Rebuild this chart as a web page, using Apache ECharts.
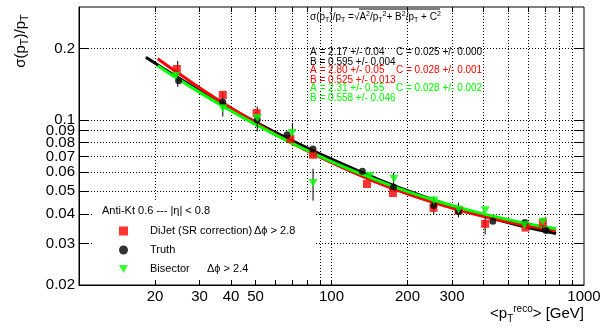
<!DOCTYPE html>
<html>
<head>
<meta charset="utf-8">
<script src="https://cdn.jsdelivr.net/npm/echarts@6/dist/echarts.min.js"></script>
<style>
  html, body { margin: 0; padding: 0; background: #fff; }
  #chart { width: 605px; height: 327px; }
</style>
</head>
<body>
<div id="chart"></div>
<script>
// tick / label positions
const xTickValues = [20, 30, 40, 50, 60, 70, 80, 90, 100, 200, 300, 400, 500, 600, 700, 800, 900]
const xLabelValues = [20, 30, 40, 50, 100, 200, 300, 1000]
const yTickValues = [0.03, 0.04, 0.05, 0.06, 0.07, 0.08, 0.09, 0.1, 0.2]
const yLabelValues = [0.02, 0.03, 0.04, 0.05, 0.06, 0.07, 0.08, 0.09, 0.1, 0.2]

// DiJet (SR correction)
const dijetX = [24.4, 37.1, 50.5, 68.8, 84.5, 138.2, 175.1, 253.4, 318.5, 406, 587, 687]
const dijetY = [0.164, 0.1275, 0.1067, 0.0829, 0.0711, 0.0535, 0.049, 0.0424, 0.0413, 0.0363, 0.035, 0.0367]
// Truth
const truthX = [24.8, 37.1, 50.8, 66.7, 84.5, 132.5, 176, 254, 318.5, 435.5, 583, 708]
const truthY = [0.1461, 0.119, 0.1, 0.0864, 0.0752, 0.0605, 0.052, 0.0434, 0.0409, 0.0372, 0.0368, 0.034]
// Bisector
const bisectorX = [24.2, 37.1, 50.8, 69.8, 84.5, 141.6, 176.7, 254.4, 318.5, 406.2, 581, 686.6]
const bisectorY = [0.1534, 0.112, 0.1017, 0.0879, 0.054, 0.058, 0.0563, 0.0456, 0.0417, 0.0414, 0.0358, 0.037]

// vertical error bars
const errX = [24.6, 37.1, 50.8, 70, 84.5, 176, 254, 318.5, 406, 686.6]
const errLow = [0.138, 0.1032, 0.0892, 0.0797, 0.0455, 0.0506, 0.0397, 0.0386, 0.0327, 0.0338]
const errHigh = [0.1775, 0.1317, 0.1138, 0.0968, 0.0621, 0.0596, 0.0473, 0.0446, 0.0389, 0.0385]

// fitted resolution curves
const fitTruthX = [18.4, 25, 35, 50, 70, 100, 150, 200, 300, 400, 550, 775]
const fitTruthY = [0.1838, 0.1494, 0.1208, 0.0979, 0.0815, 0.0681, 0.0565, 0.0501, 0.0431, 0.0392, 0.0358, 0.033]
const fitDijetX = [20.5, 25, 35, 50, 70, 100, 150, 200, 300, 400, 550, 775]
const fitDijetY = [0.1813, 0.1561, 0.1227, 0.0971, 0.0795, 0.0658, 0.0545, 0.0486, 0.0423, 0.039, 0.0362, 0.034]
const fitBisectorX = [20.5, 25, 35, 50, 70, 100, 150, 200, 300, 400, 550, 775]
const fitBisectorY = [0.1693, 0.1476, 0.1185, 0.0956, 0.0795, 0.0666, 0.0557, 0.0497, 0.0434, 0.04, 0.037, 0.0346]

const FONT = '"Liberation Sans", Arial, Helvetica, sans-serif'
const TRIANGLE_DOWN = 'path://M0,0L10,0L5,9Z'
const zip = (xs, ys) => xs.map((x, i) => [x, ys[i]])

const chart = echarts.init(document.getElementById('chart'), null, { renderer: 'canvas' })

const dotted = { type: [1, 2], color: '#000', width: 1 }

function fitLine(name, xs, ys, color) {
  return {
    name,
    type: 'line',
    data: zip(xs, ys),
    smooth: true,
    symbol: 'none',
    lineStyle: { color, width: 3 },
    z: 2,
    silent: true
  }
}

const option = {
  animation: false,
  grid: { left: 79, top: 7, right: 21, bottom: 42, show: true, borderColor: '#000', borderWidth: 1, backgroundColor: 'transparent' },
  xAxis: [
    {
      type: 'log', logBase: 10, min: 10, max: 1000, position: 'bottom',
      axisLine: { show: true, lineStyle: { color: '#000', width: 1 } },
      axisTick: { inside: true, length: 5, customValues: xTickValues, lineStyle: { color: '#000' } },
      axisLabel: {
        customValues: xLabelValues, color: '#000', fontSize: 15, fontFamily: FONT, margin: 4,
        formatter: v => String(Math.round(v))
      },
      splitLine: { show: true, lineStyle: dotted },
      minorTick: { show: false }
    },
    {
      type: 'log', logBase: 10, min: 10, max: 1000, position: 'top',
      axisLine: { show: false },
      axisTick: { inside: true, length: 5, customValues: xTickValues, lineStyle: { color: '#000' } },
      axisLabel: { show: false },
      splitLine: { show: false }
    }
  ],
  yAxis: [
    {
      type: 'log', logBase: 10, min: 0.02, max: 0.3, position: 'left',
      axisLine: { show: true, lineStyle: { color: '#000', width: 1 } },
      axisTick: { inside: true, length: 9, customValues: yTickValues, lineStyle: { color: '#000' } },
      axisLabel: {
        customValues: yLabelValues, color: '#000', fontSize: 15, fontFamily: FONT, margin: 4,
        formatter: v => String(+Number(v).toPrecision(2))
      },
      splitLine: { show: true, lineStyle: dotted }
    },
    {
      type: 'log', logBase: 10, min: 0.02, max: 0.3, position: 'right',
      axisLine: { show: false },
      axisTick: { inside: true, length: 9, customValues: yTickValues, lineStyle: { color: '#000' } },
      axisLabel: { show: false },
      splitLine: { show: false }
    }
  ],
  legend: {
    orient: 'vertical',
    left: 114,
    top: 220,
    itemGap: 7,
    itemWidth: 9,
    itemHeight: 9,
    data: ['DiJet (SR correction)', 'Truth', 'Bisector'],
    textStyle: {
      fontFamily: FONT, fontSize: 11, color: '#000', lineHeight: 12, padding: [0, 0, 0, 17],
      rich: {
        a: { fontFamily: FONT, fontSize: 11, color: '#000', width: 104 },
        b: { fontFamily: FONT, fontSize: 11, color: '#000', width: 57 },
        c: { fontFamily: FONT, fontSize: 11, color: '#000' }
      }
    },
    formatter: name => {
      if (name === 'DiJet (SR correction)') return '{a|DiJet (SR correction)}{c|\u0394\u03d5 > 2.8}'
      if (name === 'Bisector') return '{b|Bisector}{c|\u0394\u03d5 > 2.4}'
      return '{c|' + name + '}'
    }
  },
  graphic: [
    { type: 'rect', z: 1, shape: { x: 94, y: 201, width: 221, height: 79 }, style: { fill: '#fff' }, silent: true },
    {
      type: 'text', z: 5, x: 102, y: 211,
      style: { text: 'Anti-Kt 0.6 --- |\u03b7| < 0.8', fontFamily: FONT, fontSize: 11, fill: '#000', verticalAlign: 'middle' }
    },
    {
      type: 'text', z: 5, x: 21, y: 41, rotation: Math.PI / 2,
      style: {
        text: '{n|\u03c3(p}{s|T}{n|)/p}{s|T}',
        align: 'center', verticalAlign: 'middle',
        rich: {
          n: { fontFamily: FONT, fontSize: 15, fill: '#000' },
          s: { fontFamily: FONT, fontSize: 11, fill: '#000', padding: [8, 0, 0, 0] }
        }
      }
    },
    {
      type: 'text', z: 5, x: 584, y: 314,
      style: {
        text: '{n|<p}{s|T}{p|reco}{n|> [GeV]}',
        align: 'right', verticalAlign: 'middle',
        rich: {
          n: { fontFamily: FONT, fontSize: 15, fill: '#000' },
          s: { fontFamily: FONT, fontSize: 10, fill: '#000', padding: [10, 0, 0, 0] },
          p: { fontFamily: FONT, fontSize: 10, fill: '#000', padding: [0, 0, 9, 0] }
        }
      }
    },
    {
      type: 'text', z: 5, x: 310, y: 17,
      style: {
        text: '{n|\u03c3(p}{s|T}{n|)/p}{s|T}{n| =\u221aA}{p|2}{n|/p}{s|T}{p|2}{n|+ B}{p|2}{n|/p}{s|T}{n| + C}{p|2}',
        verticalAlign: 'middle',
        rich: {
          n: { fontFamily: FONT, fontSize: 10, fill: '#000' },
          s: { fontFamily: FONT, fontSize: 7, fill: '#000', padding: [6, 0, 0, 0] },
          p: { fontFamily: FONT, fontSize: 7, fill: '#000', padding: [0, 0, 5, 0] }
        }
      }
    },
    { type: 'line', z: 5, shape: { x1: 359, y1: 9, x2: 440, y2: 9 }, style: { stroke: '#000', lineWidth: 1 } },
    { type: 'text', z: 5, x: 310, y: 52, style: { text: 'A = 2.17 +/- 0.04', fontFamily: FONT, fontSize: 10, fill: '#000', verticalAlign: 'middle' } },
    { type: 'text', z: 5, x: 396, y: 52, style: { text: 'C = 0.025 +/- 0.000', fontFamily: FONT, fontSize: 10, fill: '#000', verticalAlign: 'middle' } },
    { type: 'text', z: 5, x: 310, y: 62, style: { text: 'B = 0.595 +/- 0.004', fontFamily: FONT, fontSize: 10, fill: '#000', verticalAlign: 'middle' } },
    { type: 'text', z: 5, x: 310, y: 70, style: { text: 'A = 2.80 +/- 0.05', fontFamily: FONT, fontSize: 10, fill: '#ff0000', verticalAlign: 'middle' } },
    { type: 'text', z: 5, x: 396, y: 70, style: { text: 'C = 0.028 +/- 0.001', fontFamily: FONT, fontSize: 10, fill: '#ff0000', verticalAlign: 'middle' } },
    { type: 'text', z: 5, x: 310, y: 80, style: { text: 'B = 0.525 +/- 0.013', fontFamily: FONT, fontSize: 10, fill: '#ff0000', verticalAlign: 'middle' } },
    { type: 'text', z: 5, x: 310, y: 88, style: { text: 'A = 2.31 +/- 0.55', fontFamily: FONT, fontSize: 10, fill: '#00ff00', verticalAlign: 'middle' } },
    { type: 'text', z: 5, x: 396, y: 88, style: { text: 'C = 0.028 +/- 0.002', fontFamily: FONT, fontSize: 10, fill: '#00ff00', verticalAlign: 'middle' } },
    { type: 'text', z: 5, x: 310, y: 98, style: { text: 'B = 0.558 +/- 0.046', fontFamily: FONT, fontSize: 10, fill: '#00ff00', verticalAlign: 'middle' } }
  ],
  series: [
    fitLine('fit truth', fitTruthX, fitTruthY, '#000'),
    fitLine('fit dijet', fitDijetX, fitDijetY, '#ff0000'),
    fitLine('fit bisector', fitBisectorX, fitBisectorY, '#00ff00'),
    {
      name: 'errors',
      type: 'custom',
      z: 3,
      silent: true,
      data: errX.map((x, i) => [x, errLow[i], errHigh[i]]),
      renderItem: (params, api) => {
        const lo = api.coord([api.value(0), api.value(1)])
        const hi = api.coord([api.value(0), api.value(2)])
        return { type: 'line', shape: { x1: lo[0], y1: lo[1], x2: hi[0], y2: hi[1] }, style: { stroke: '#000', lineWidth: 1 } }
      }
    },
    {
      name: 'DiJet (SR correction)', type: 'scatter', z: 4,
      data: zip(dijetX, dijetY),
      symbol: 'rect', symbolSize: 8,
      itemStyle: { color: '#ff0000' }
    },
    {
      name: 'Truth', type: 'scatter', z: 4,
      data: zip(truthX, truthY),
      symbol: 'circle', symbolSize: 7,
      itemStyle: { color: '#000' }
    },
    {
      name: 'Bisector', type: 'scatter', z: 4,
      data: zip(bisectorX, bisectorY),
      symbol: TRIANGLE_DOWN, symbolSize: [9, 8],
      itemStyle: { color: '#00ff00' }
    }
  ]
}

chart.setOption(option)
</script>
</body>
</html>
